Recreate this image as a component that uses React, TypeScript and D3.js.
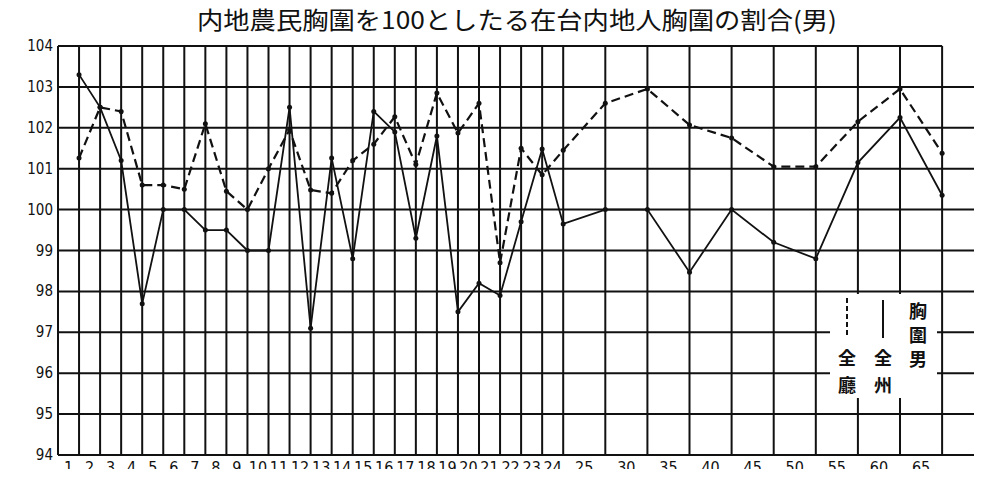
import React, { useRef, useEffect } from 'react';
import * as d3 from 'd3';

// x categories: ages 1-24 one by one, then 5-year groups
const ageLabels = [
  '1', '2', '3', '4', '5', '6', '7', '8', '9', '10', '11', '12',
  '13', '14', '15', '16', '17', '18', '19', '20', '21', '22', '23', '24',
  '25', '30', '35', '40', '45', '50', '55', '60', '65',
];

// 全廳 (dashed)
const zenchoValues = [
  101.26, 102.5, 102.4, 100.6, 100.6, 100.5, 102.1, 100.45, 100.0, 101.0, 101.95, 100.48,
  100.4, 101.2, 101.6, 102.27, 101.1, 102.85, 101.87, 102.6, 98.7, 101.5, 100.85, 101.45,
  102.6, 102.95, 102.07, 101.75, 101.05, 101.05, 102.15, 102.95, 101.38,
];

// 全州 (solid)
const zenshuValues = [
  103.3, 102.5, 101.2, 97.7, 100.0, 100.0, 99.5, 99.5, 99.0, 99.0, 102.5, 97.1,
  101.26, 98.8, 102.4, 101.9, 99.3, 101.8, 97.5, 98.2, 97.9, 99.7, 101.48, 99.65,
  100.0, 100.0, 98.47, 100.0, 99.2, 98.8, 101.15, 102.25, 100.35,
];

const yTicks = [94, 95, 96, 97, 98, 99, 100, 101, 102, 103, 104];

const title = '内地農民胸圍を100としたる在台内地人胸圍の割合(男)';

// position of category i on the index axis (groups take two steps)
const slot = (i: number) => (i < 24 ? i + 1 : 24 + 2 * (i - 23));
const labelSlot = (i: number) => (i < 24 ? slot(i) - 0.5 : slot(i) - 1);

const App = () => {
  const svgRef = useRef<SVGSVGElement>(null);

  useEffect(() => {
    const svg = d3.select(svgRef.current);
    svg.selectAll('*').remove();

    const width = 982;
    const height = 477;
    const left = 58;
    const top = 46;
    const bottom = 455;
    const right = 980;

    const x = d3.scaleLinear().domain([0, 43.8]).range([left, right]);
    const y = d3.scaleLinear().domain([94, 104]).range([bottom, top]);
    const lastX = x(slot(ageLabels.length - 1));

    svg.attr('width', width).attr('height', height);
    svg.append('rect').attr('width', width).attr('height', height).attr('fill', '#fff');

    // title
    svg
      .append('text')
      .attr('x', 517)
      .attr('y', 29)
      .attr('text-anchor', 'middle')
      .attr('font-family', '"Noto Sans CJK JP", sans-serif')
      .attr('font-size', 24)
      .attr('textLength', 640)
      .attr('lengthAdjust', 'spacingAndGlyphs')
      .attr('fill', '#111')
      .text(title);

    const grid = svg.append('g').attr('stroke', '#111').attr('stroke-width', 2);

    // horizontal lines
    grid
      .selectAll('line.h')
      .data(yTicks)
      .join('line')
      .attr('class', 'h')
      .attr('x1', left)
      .attr('x2', (d) => (d === 104 ? lastX : right))
      .attr('y1', (d) => y(d))
      .attr('y2', (d) => y(d));

    // vertical lines
    grid
      .selectAll('line.v')
      .data([0, ...ageLabels.map((_, i) => slot(i))])
      .join('line')
      .attr('class', 'v')
      .attr('x1', (d) => x(d))
      .attr('x2', (d) => x(d))
      .attr('y1', top)
      .attr('y2', bottom);

    // y tick labels
    svg
      .append('g')
      .selectAll('text')
      .data(yTicks)
      .join('text')
      .attr('x', 53)
      .attr('y', (d) => y(d) + 5)
      .attr('text-anchor', 'end')
      .attr('font-family', '"DejaVu Sans Condensed", "DejaVu Sans", sans-serif')
      .attr('font-size', 15)
      .attr('fill', '#111')
      .text((d) => d);

    // x tick labels
    svg
      .append('g')
      .selectAll('text')
      .data(ageLabels)
      .join('text')
      .attr('x', (_, i) => x(labelSlot(i)))
      .attr('y', 473)
      .attr('text-anchor', 'middle')
      .attr('font-family', '"DejaVu Sans Condensed", "DejaVu Sans", sans-serif')
      .attr('font-size', 16)
      .attr('fill', '#111')
      .text((d) => d);

    const line = d3
      .line<number>()
      .x((_, i) => x(slot(i)))
      .y((d) => y(d));

    const series = [
      { values: zenchoValues, dash: '9,5', width: 2.2 },
      { values: zenshuValues, dash: null, width: 1.8 },
    ];

    series.forEach((s) => {
      svg
        .append('path')
        .datum(s.values)
        .attr('fill', 'none')
        .attr('stroke', '#111')
        .attr('stroke-width', s.width)
        .attr('stroke-dasharray', s.dash)
        .attr('d', line);

      svg
        .append('g')
        .selectAll('circle')
        .data(s.values)
        .join('circle')
        .attr('cx', (_, i) => x(slot(i)))
        .attr('cy', (d) => y(d))
        .attr('r', 2.5)
        .attr('fill', '#111');
    });

    // legend box
    const lg = svg.append('g');
    lg.append('rect').attr('x', 830).attr('y', 294).attr('width', 107).attr('height', 104).attr('fill', '#fff');
    lg.append('line')
      .attr('x1', 847).attr('x2', 847).attr('y1', 298).attr('y2', 338)
      .attr('stroke', '#111').attr('stroke-width', 2).attr('stroke-dasharray', '5,3');
    lg.append('line')
      .attr('x1', 883).attr('x2', 883).attr('y1', 300).attr('y2', 338)
      .attr('stroke', '#111').attr('stroke-width', 2);

    const legendText = [
      { x: 847, chars: ['全', '廳'], y0: 358, step: 27 },
      { x: 883, chars: ['全', '州'], y0: 358, step: 27 },
      { x: 918, chars: ['胸', '圍', '男'], y0: 311, step: 24 },
    ];
    legendText.forEach((col) => {
      col.chars.forEach((c, k) => {
        lg.append('text')
          .attr('x', col.x)
          .attr('y', col.y0 + k * col.step + 7)
          .attr('text-anchor', 'middle')
          .attr('font-family', '"Noto Sans CJK JP", sans-serif')
          .attr('font-size', 18)
          .attr('font-weight', 'bold')
          .attr('fill', '#111')
          .text(c);
      });
    });

    return () => {
      svg.selectAll('*').remove();
    };
  }, []);

  return (
    <div style={{ margin: '-8px' }}>
      <svg ref={svgRef} style={{ display: 'block' }} />
    </div>
  );
};

export default App;
